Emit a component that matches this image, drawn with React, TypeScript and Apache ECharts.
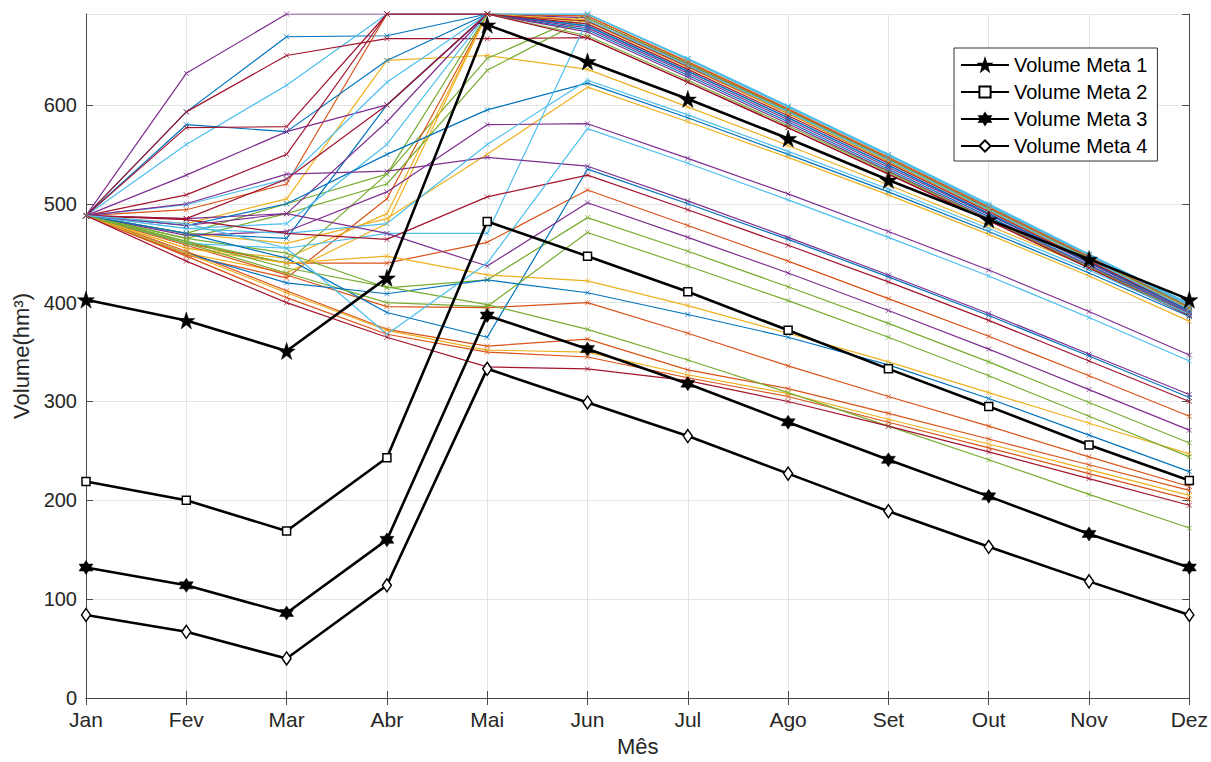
import React, { useEffect, useRef } from "react";
import * as echarts from "echarts";

// ---------- categories ----------
const months = ["Jan", "Fev", "Mar", "Abr", "Mai", "Jun", "Jul", "Ago", "Set", "Out", "Nov", "Dez"];

// ---------- target volumes (black lines) ----------
const meta1 = [403, 382, 351, 425, 681, 644, 606, 566, 524, 484, 444, 403];
const meta2 = [219, 200, 169, 243, 482, 447, 411, 372, 333, 295, 256, 220];
const meta3 = [132, 114, 86, 160, 387, 353, 318, 279, 241, 204, 166, 132];
const meta4 = [84, 67, 40, 114, 333, 299, 265, 227, 189, 153, 118, 84];
const metaNames = ["Volume Meta 1", "Volume Meta 2", "Volume Meta 3", "Volume Meta 4"];

// ---------- simulated scenarios (coloured lines) ----------
const s01 = [488, 593, 669, 670, 692, 680, 634, 587, 539, 490, 441, 392];
const s02 = [488, 494, 520, 692, 692, 690, 643, 595, 546, 496, 446, 396];
const s03 = [488, 480, 505, 645, 650, 636, 598, 559, 519, 478, 436, 394];
const s04 = [488, 632, 692, 692, 692, 688, 641, 594, 545, 495, 445, 395];
const s05 = [488, 470, 500, 530, 647, 692, 646, 598, 549, 498, 448, 398];
const s06 = [488, 560, 620, 692, 692, 692, 647, 599, 550, 499, 449, 398];
const s07 = [488, 593, 650, 667, 667, 668, 623, 577, 530, 483, 435, 387];

const s08 = [488, 580, 573, 645, 692, 676, 630, 583, 535, 487, 438, 390];
const s09 = [488, 448, 425, 505, 692, 690, 644, 596, 547, 497, 447, 397];
const s10 = [488, 455, 445, 490, 692, 684, 638, 591, 542, 493, 443, 393];
const s11 = [488, 529, 573, 600, 692, 678, 632, 585, 537, 489, 440, 391];
const s12 = [488, 465, 490, 520, 635, 688, 642, 594, 545, 495, 445, 395];
const s13 = [488, 499, 525, 623, 692, 692, 646, 598, 549, 498, 448, 397];
const s14 = [488, 577, 578, 692, 692, 685, 639, 592, 543, 494, 444, 394];

const s15 = [488, 470, 465, 600, 692, 680, 634, 587, 539, 490, 441, 392];
const s16 = [488, 460, 440, 440, 461, 514, 478, 442, 404, 366, 326, 285];
const s17 = [488, 450, 430, 480, 692, 686, 640, 592, 543, 494, 444, 394];
const s18 = [488, 485, 490, 583, 692, 674, 628, 581, 533, 485, 437, 389];
const s19 = [488, 462, 440, 530, 692, 670, 625, 579, 532, 484, 436, 388];
const s20 = [488, 475, 480, 560, 692, 692, 647, 599, 550, 500, 449, 399];
const s21 = [488, 509, 550, 692, 692, 682, 636, 589, 541, 492, 442, 393];

const s22 = [488, 478, 500, 550, 595, 622, 587, 550, 512, 472, 430, 386];
const s23 = [488, 458, 428, 396, 395, 400, 369, 336, 305, 275, 244, 214];
const s24 = [488, 470, 460, 485, 550, 618, 583, 547, 509, 469, 427, 381];
const s25 = [488, 468, 472, 512, 580, 581, 546, 510, 472, 433, 391, 347];
const s26 = [488, 465, 450, 415, 423, 486, 452, 416, 379, 340, 299, 258];
const s27 = [488, 460, 455, 470, 470, 686, 640, 593, 544, 494, 444, 393];
const s28 = [488, 485, 525, 600, 692, 668, 623, 577, 530, 483, 435, 387];

const s29 = [488, 470, 445, 390, 365, 535, 500, 464, 426, 387, 346, 304];
const s30 = [488, 452, 412, 373, 356, 363, 332, 313, 288, 262, 236, 210];
const s31 = [488, 455, 440, 447, 428, 422, 397, 369, 340, 309, 278, 247];
const s32 = [488, 500, 530, 533, 547, 538, 503, 466, 428, 389, 348, 307];
const s33 = [488, 460, 430, 400, 396, 471, 437, 402, 365, 326, 285, 244];
const s34 = [488, 475, 470, 480, 560, 625, 590, 553, 515, 475, 433, 388];
const s35 = [488, 484, 470, 464, 507, 529, 494, 458, 421, 382, 341, 300];

const s36 = [488, 450, 420, 409, 423, 410, 388, 365, 337, 303, 266, 229];
const s37 = [488, 447, 405, 368, 350, 345, 324, 305, 279, 253, 227, 201];
const s38 = [488, 450, 410, 372, 352, 350, 327, 308, 282, 257, 231, 205];
const s39 = [488, 478, 490, 470, 437, 501, 466, 430, 392, 353, 312, 271];
const s40 = [488, 462, 435, 416, 398, 373, 342, 309, 275, 241, 206, 172];
const s41 = [488, 480, 455, 368, 440, 576, 541, 504, 466, 427, 385, 341];
const s42 = [488, 442, 400, 365, 335, 333, 321, 300, 275, 249, 222, 195];

const scenarios = [
  s01, s02, s03, s04, s05, s06, s07, s08, s09, s10, s11, s12, s13, s14,
  s15, s16, s17, s18, s19, s20, s21, s22, s23, s24, s25, s26, s27, s28,
  s29, s30, s31, s32, s33, s34, s35, s36, s37, s38, s39, s40, s41, s42,
];

// ---------- styles ----------
const palette = ["#0072BD", "#D95319", "#EDB120", "#7E2F8E", "#77AC30", "#4DBEEE", "#A2142F"];
const FONT = "'Liberation Sans', Arial, Helvetica, sans-serif";
const TXT = "#262626";
const AXIS = "#4a4a4a";
const GRID = "#e4e4e4";
const Y_MAX = 692;

const xMark = "path://M0,0L10,10M10,0L0,10";
const star5 =
  "path://M50,0L61.8,35.1L98.1,35.1L68.8,56.7L79.4,90.9L50,69.1L20.6,90.9L31.2,56.7L1.9,35.1L38.2,35.1Z";
const star6 =
  "path://M50,0L64.4,25L93.3,25L78.9,50L93.3,75L64.4,75L50,100L35.6,75L6.7,75L21.1,50L6.7,25L35.6,25Z";

export default function App() {
  const ref = useRef<HTMLDivElement>(null);

  useEffect(() => {
    if (!ref.current) return;
    const chart = echarts.init(ref.current, null, { renderer: "svg" });

    const colored = scenarios.map((d, i) => {
      const c = palette[i % palette.length];
      return {
        type: "line",
        data: d,
        symbol: xMark,
        symbolSize: 5,
        showSymbol: true,
        silent: true,
        z: 2,
        lineStyle: { width: 1.2, color: c },
        itemStyle: { color: c, borderColor: c, borderWidth: 0.8 },
        emphasis: { disabled: true },
      };
    });

    const metaData = [meta1, meta2, meta3, meta4];
    const metaSymbols = [star5, "rect", star6, "diamond"];
    const metaSizes: any[] = [17, 8, 14, [9, 13]];
    const metaFill = ["#000", "#fff", "#000", "#fff"];
    const black = metaData.map((d, i) => ({
      name: metaNames[i],
      type: "line",
      data: d,
      symbol: metaSymbols[i],
      symbolSize: metaSizes[i],
      showSymbol: true,
      silent: true,
      z: 5,
      lineStyle: { width: 2.6, color: "#000" },
      itemStyle: { color: metaFill[i], borderColor: "#000", borderWidth: metaFill[i] === "#fff" ? 1.5 : 0.5 },
      emphasis: { disabled: true },
    }));

    const xBase = {
      type: "category",
      data: months,
      boundaryGap: false,
      axisLine: { show: true, lineStyle: { color: AXIS, width: 1 } },
      axisTick: { show: true, inside: true, length: 7, lineStyle: { color: AXIS } },
    };
    const yBase = {
      type: "value",
      min: 0,
      max: Y_MAX,
      interval: 100,
      axisLine: { show: true, lineStyle: { color: AXIS, width: 1 } },
      axisTick: { show: true, inside: true, length: 7, lineStyle: { color: AXIS } },
    };

    chart.setOption({
      animation: false,
      backgroundColor: "#fff",
      grid: { left: 86, right: 21, top: 14, bottom: 62, containLabel: false },
      xAxis: [
        {
          ...xBase,
          position: "bottom",
          name: "Mês",
          nameLocation: "middle",
          nameGap: 37,
          nameTextStyle: { fontSize: 22, color: TXT, fontFamily: FONT },
          axisLabel: { fontSize: 21, color: TXT, fontFamily: FONT, margin: 11 },
          splitLine: { show: true, lineStyle: { color: GRID, width: 1 } },
        },
        {
          ...xBase,
          position: "top",
          axisLabel: { show: false },
          splitLine: { show: false },
        },
      ],
      yAxis: [
        {
          ...yBase,
          position: "left",
          name: "Volume(hm³)",
          nameLocation: "middle",
          nameRotate: 90,
          nameGap: 52,
          nameTextStyle: { fontSize: 22, color: TXT, fontFamily: FONT },
          axisLabel: { fontSize: 20, color: TXT, fontFamily: FONT, margin: 9, showMaxLabel: false },
          splitLine: { show: true, lineStyle: { color: GRID, width: 1 } },
        },
        {
          ...yBase,
          position: "right",
          axisLabel: { show: false },
          splitLine: { show: false },
        },
      ],
      legend: {
        data: metaNames,
        orient: "vertical",
        left: 954,
        top: 48,
        padding: [7, 10, 5, 6],
        itemWidth: 48,
        itemHeight: 14,
        itemGap: 7,
        backgroundColor: "#fff",
        borderColor: "#333",
        borderWidth: 1,
        borderRadius: 0,
        selectedMode: false,
        textStyle: { fontSize: 20, lineHeight: 20, color: "#000", fontFamily: FONT },
      },
      series: [...colored, ...black],
    });

    return () => chart.dispose();
  }, []);

  return (
    <div
      ref={ref}
      style={{ position: "fixed", left: 0, top: 0, width: 1211, height: 762, background: "#fff" }}
    />
  );
}
